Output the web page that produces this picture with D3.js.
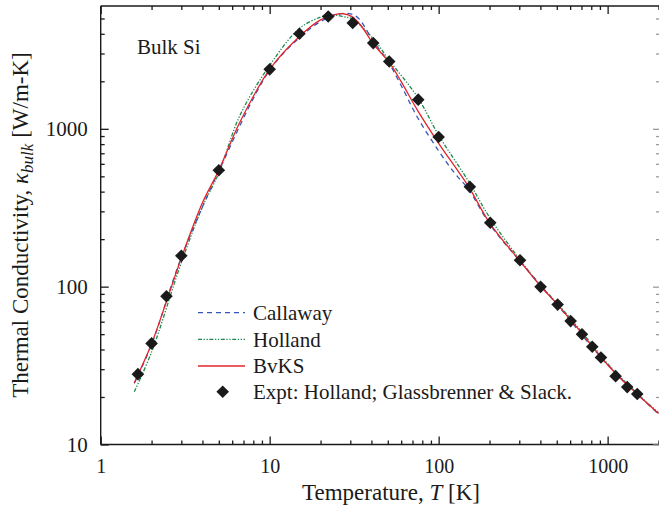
<!DOCTYPE html>
<html>
<head>
<meta charset="utf-8">
<script src="https://cdn.jsdelivr.net/npm/d3@7/dist/d3.min.js"></script>
<style>
  html, body { margin: 0; padding: 0; background: #fff; }
  svg text { font-family: 'Liberation Serif', 'DejaVu Serif', 'Times New Roman', serif !important; }
</style>
</head>
<body>
<svg id="chart" width="659" height="506"></svg>
<script>
// Thermal conductivity of bulk silicon: three model fits and experimental points.

const majorTicksT = [1, 10, 100, 1000];
const minorTicksT = [2, 3, 4, 5, 6, 7, 8, 9, 20, 30, 40, 50, 60, 70, 80, 90,
                     200, 300, 400, 500, 600, 700, 800, 900, 2000];
const majorTicksK = [10, 100, 1000];
const minorTicksK = [20, 30, 40, 50, 60, 70, 80, 90, 200, 300, 400, 500, 600, 700, 800, 900,
                     2000, 3000, 4000, 5000];

// Experiment (Holland; Glassbrenner & Slack)
const exptT = [1.66, 2.0, 2.45, 3.0, 5.0, 10, 15, 22.2, 31, 41, 51, 75.7, 100, 153, 202, 303,
               401, 506, 604, 705, 811, 913, 1115, 1306, 1497];
const exptK = [27.9, 43.7, 87, 157, 546, 2381, 4004, 5152, 4679, 3491, 2673, 1531, 887, 429, 254, 147,
               99.7, 77, 60.5, 50, 41.6, 35.6, 27.1, 23.1, 20.9];

// BvKS model
const bvksT = [1.58, 2, 2.5, 3, 4, 5, 6.67, 10, 15, 20, 24, 27.3, 31, 35, 41, 51.5, 60, 75, 100,
               150, 200, 300, 400, 500, 600, 700, 800, 900, 1000, 1200, 1500, 2000];
const bvksK = [24.6, 43.5, 86, 152, 340, 546, 1104, 2381, 3846, 4900, 5280, 5357, 5100, 4450, 3459,
               2598, 1990, 1310, 810, 432, 254, 147, 101, 78, 62, 51, 42.5, 36.5, 32, 26, 20.8, 15.7];

// Holland model
const hollandT = [1.58, 2, 3, 4, 5, 6.67, 10, 15, 20, 23, 27, 31, 41, 51, 75, 100, 150, 200,
                  300, 400, 500, 700, 1000, 1500, 2000];
const hollandK = [21.6, 38.5, 142, 320, 525, 1217, 2523, 4325, 5100, 5270, 5150, 4950, 3724, 2714,
                  1589, 910, 466, 275, 150, 102, 79, 52, 32.5, 21, 15.9];

// Callaway model
const callawayT = [1.58, 2, 3, 5, 10, 15, 20, 25, 29, 33, 41, 50, 60, 75, 100, 125, 150, 200,
                   300, 500, 1000, 2000];
const callawayK = [24.4, 43, 153, 540, 2350, 3780, 4780, 5280, 5380, 5100, 3597, 2680, 1880, 1180,
                   725, 520, 415, 250, 146.5, 77.5, 32, 15.6];

const legendLabels = ["Callaway", "Holland", "BvKS", "Expt: Holland; Glassbrenner & Slack."];

const FONT = "'Liberation Serif', 'DejaVu Serif', serif";
const INK = "#1a1a1a";

const svg = d3.select("#chart");

const x = d3.scaleLog().domain([1, 2000]).range([100.7, 658.5]);
const y = d3.scaleLog().domain([10, 6000]).range([444.5, 6]);

const xL = 100.7, xR = 659, yT = 6, yB = 444.5;

// frame lines
const frame = svg.append("g").attr("stroke", INK).attr("stroke-width", 1.4).attr("fill", "none");
frame.append("line").attr("x1", xL).attr("x2", xR).attr("y1", yB).attr("y2", yB);
frame.append("line").attr("x1", xL).attr("x2", xR).attr("y1", yT).attr("y2", yT);
frame.append("line").attr("x1", xL).attr("x2", xL).attr("y1", yT).attr("y2", yB);

function styleAxis(g, color) {
  g.attr("font-family", FONT);
  g.select(".domain").remove();
  g.selectAll(".tick line").attr("stroke", color).attr("stroke-width", 1.3);
}

// bottom axis
const gB = svg.append("g").attr("transform", `translate(0,${yB})`);
gB.append("g").call(d3.axisBottom(x).tickValues(minorTicksT).tickSize(-4).tickFormat(""))
  .call(g => styleAxis(g, INK));
gB.append("g").call(d3.axisBottom(x).tickValues(majorTicksT).tickSize(-8).tickPadding(14).tickFormat(d3.format("d")))
  .call(g => styleAxis(g, INK))
  .call(g => g.selectAll("text").attr("font-size", 20).attr("fill", INK).attr("dy", "0.71em"));

// top axis
const gT = svg.append("g").attr("transform", `translate(0,${yT})`);
gT.append("g").call(d3.axisTop(x).tickValues(minorTicksT).tickSize(-4).tickFormat(""))
  .call(g => styleAxis(g, INK));
gT.append("g").call(d3.axisTop(x).tickValues(majorTicksT).tickSize(-8).tickFormat(""))
  .call(g => styleAxis(g, INK));

// left axis
const gLft = svg.append("g").attr("transform", `translate(${xL},0)`);
gLft.append("g").call(d3.axisLeft(y).tickValues(minorTicksK).tickSize(-4).tickFormat(""))
  .call(g => styleAxis(g, INK));
gLft.append("g").call(d3.axisLeft(y).tickValues(majorTicksK).tickSize(-8).tickPadding(13).tickFormat(d3.format("d")))
  .call(g => styleAxis(g, INK))
  .call(g => g.selectAll("text").attr("font-size", 21).attr("fill", INK));

// right axis (at the edge of the canvas)
const gR = svg.append("g").attr("transform", `translate(659,0)`);
gR.append("g").call(d3.axisRight(y).tickValues(minorTicksK).tickSize(-3).tickFormat(""))
  .call(g => styleAxis(g, "#9a9a9a"));
gR.append("g").call(d3.axisRight(y).tickValues(majorTicksK).tickSize(-6).tickFormat(""))
  .call(g => styleAxis(g, "#9a9a9a"));

// model curves
const clipId = "plotclip";
svg.append("clipPath").attr("id", clipId).append("rect")
  .attr("x", xL).attr("y", yT).attr("width", xR - xL).attr("height", yB - yT);

const line = d3.line().x(d => x(d[0])).y(d => y(d[1])).curve(d3.curveCatmullRom.alpha(0.5));
const plot = svg.append("g").attr("clip-path", `url(#${clipId})`);

const series = [
  { T: hollandT, K: hollandK, color: "#1d8a4c", dash: "4,1.6,1.3,1.6,1.3,1.6", width: 1.3 },
  { T: callawayT, K: callawayK, color: "#3556b8", dash: "5,4", width: 1.3 },
  { T: bvksT, K: bvksK, color: "#e3242b", dash: null, width: 1.3 }
];
series.forEach(s => {
  plot.append("path")
    .datum(s.T.map((t, i) => [t, s.K[i]]))
    .attr("d", line)
    .attr("fill", "none")
    .attr("stroke", s.color)
    .attr("stroke-width", s.width)
    .attr("stroke-dasharray", s.dash);
});

// experimental points
const diamond = "M0,-6.3L6.3,0L0,6.3L-6.3,0Z";
svg.append("g").selectAll("path")
  .data(exptT.map((t, i) => [t, exptK[i]]))
  .join("path")
  .attr("d", diamond)
  .attr("transform", d => `translate(${x(d[0])},${y(d[1])})`)
  .attr("fill", INK);

// annotation
svg.append("text").attr("x", 137).attr("y", 54).attr("font-size", 21).attr("fill", INK)
  .attr("font-family", FONT).text("Bulk Si");

// legend
const leg = svg.append("g").attr("font-size", 21).attr("fill", INK).attr("font-family", FONT);
const legY = [312.7, 339.3, 366, 391.7];
const legStyles = [
  { color: "#3556b8", dash: "5,4" },
  { color: "#1d8a4c", dash: "4,1.6,1.3,1.6,1.3,1.6" },
  { color: "#e3242b", dash: null }
];
legStyles.forEach((s, i) => {
  leg.append("line").attr("x1", 198).attr("x2", 245).attr("y1", legY[i]).attr("y2", legY[i])
    .attr("stroke", s.color).attr("stroke-width", 1.3).attr("stroke-dasharray", s.dash);
});
leg.append("path").attr("d", diamond).attr("transform", `translate(222.7,${legY[3]})`).attr("fill", INK);
legendLabels.forEach((t, i) => {
  leg.append("text").attr("x", 253).attr("y", legY[i] + 7.3).text(t);
});

// axis titles
const xt = svg.append("text").attr("x", 391).attr("y", 500).attr("text-anchor", "middle")
  .attr("font-size", 23).attr("fill", INK).attr("font-family", FONT);
xt.append("tspan").text("Temperature, ");
xt.append("tspan").attr("font-style", "italic").text("T");
xt.append("tspan").text(" [K]");

const yt = svg.append("text").attr("transform", "translate(28,225) rotate(-90)")
  .attr("text-anchor", "middle").attr("font-size", 23).attr("fill", INK).attr("font-family", FONT);
yt.append("tspan").text("Thermal Conductivity, ");
yt.append("tspan").attr("font-style", "italic").text("κ");
yt.append("tspan").attr("font-style", "italic").attr("font-size", 17).attr("dy", 5).text("bulk");
yt.append("tspan").attr("dy", -5).text(" [W/m-K]");
</script>
</body>
</html>
